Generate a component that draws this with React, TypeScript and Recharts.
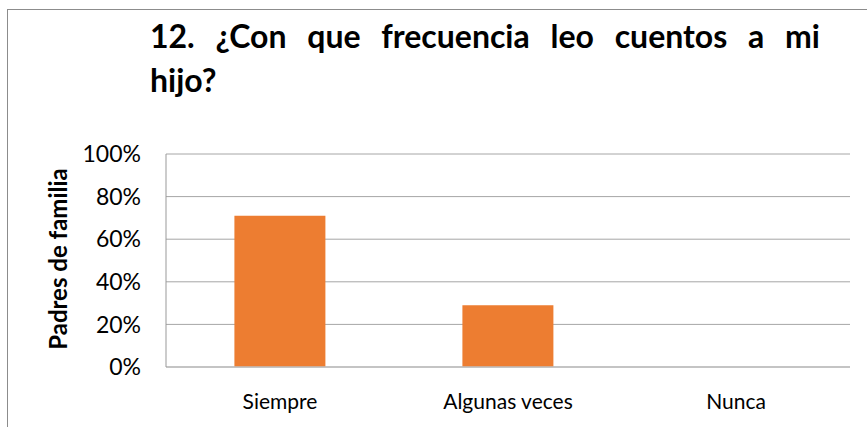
import React from "react";
import { BarChart, Bar, XAxis, YAxis, CartesianGrid } from "recharts";

const categories = ["Siempre", "Algunas veces", "Nunca"];
const values = [0.71, 0.29, 0];
const yTicks = [0, 0.2, 0.4, 0.6, 0.8, 1];
const titleLine1 = "12. ¿Con que frecuencia leo cuentos a mi";
const titleLine2 = "hijo?";
const yLabel = "Padres de familia";

const data = categories.map((c, i) => ({ name: c, value: values[i] }));

const FONT = "Lato, 'Open Sans', sans-serif";

export default function App() {
  return (
    <div style={{ position: "absolute", left: 0, top: 0, width: 867, height: 427, overflow: "hidden", background: "#fff", fontFamily: FONT }}>
      <div style={{ position: "absolute", left: 7, top: 9, width: 900, height: 500, border: "1.5px solid #8c8c8c" }} />
      <div style={{ position: "absolute", left: 150, top: 14, width: 670, fontWeight: 700, fontSize: 32, lineHeight: "44px", color: "#000" }}>
        <div style={{ textAlign: "justify", textAlignLast: "justify", whiteSpace: "nowrap" as any }}>
          <span style={{ display: "block", textAlign: "justify", textAlignLast: "justify", whiteSpace: "normal" }}>{titleLine1}</span>
        </div>
        <div>{titleLine2}</div>
      </div>
      <div style={{ position: "absolute", left: 0, top: 0 }}>
        <BarChart width={867} height={427} data={data} margin={{ top: 154, right: 17, bottom: 0, left: 0 }} barCategoryGap="30%">
          <CartesianGrid vertical={false} stroke="#a6a6a6" strokeWidth={1} />
          <XAxis
            dataKey="name"
            height={60}
            tickSize={0}
            tickMargin={27}
            axisLine={{ stroke: "#bfbfbf", strokeWidth: 1.5 }}
            tick={{ fill: "#000", fontSize: 21, fontFamily: FONT }}
            interval={0}
          />
          <YAxis
            width={166}
            domain={[0, 1]}
            ticks={yTicks}
            tickFormatter={(v: number) => `${Math.round(v * 100)}%`}
            tickSize={0}
            tickMargin={25}
            axisLine={{ stroke: "#999999", strokeWidth: 1 }}
            tick={{ fill: "#000", fontSize: 23, fontFamily: FONT }}
            label={{
              content: () => (
                <text
                  x={57}
                  y={259}
                  transform="rotate(-90 57 259)"
                  textAnchor="middle"
                  dominantBaseline="central"
                  fontFamily={FONT}
                  fontWeight={700}
                  fontSize={24}
                  fill="#000"
                >
                  {yLabel}
                </text>
              ),
            }}
          />
          <Bar dataKey="value" fill="#ED7D31" isAnimationActive={false} />
        </BarChart>
      </div>
    </div>
  );
}
